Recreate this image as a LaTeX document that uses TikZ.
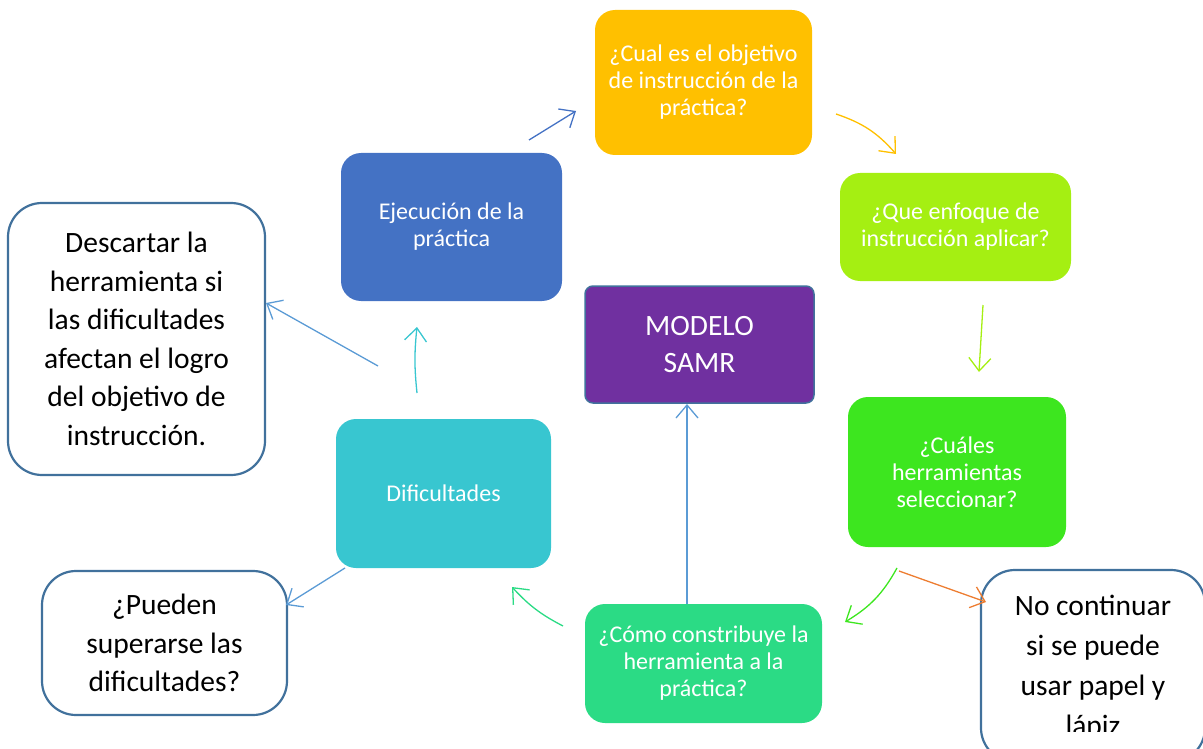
\documentclass[tikz,border=0pt]{standalone}
\usepackage{fontspec}
\setmainfont{Carlito}
\usetikzlibrary{arrows.meta}
\definecolor{cOra}{HTML}{FFC000}
\definecolor{cLime}{HTML}{A5EF12}
\definecolor{cGreen}{HTML}{3DE61F}
\definecolor{cTeal}{HTML}{2BDB85}
\definecolor{cCyan}{HTML}{38C6D0}
\definecolor{cBlue}{HTML}{4472C4}
\definecolor{cPurple}{HTML}{7030A0}
\definecolor{cEdge}{HTML}{41719C}
\definecolor{cLBlue}{HTML}{5B9BD5}
\definecolor{cRed}{HTML}{ED7D31}
\tikzset{
  cbox/.style={rounded corners=20pt, text=white, align=center, inner sep=2pt,
    font=\fontsize{24}{27}\selectfont},
  wbox/.style={draw=cEdge, line width=2.2pt, fill=white, rounded corners=34pt,
    text=black, align=center, font=\fontsize{29.5}{38.5}\selectfont},
  arr/.style={line width=1.3pt, -{Straight Barb[length=13pt,width=22pt,line width=1.3pt]}},
}
\begin{document}
\begin{tikzpicture}[x=1pt,y=-1pt]
\useasboundingbox (0,0) rectangle (1203,749);
% colored boxes
\node[cbox, fill=cOra, minimum width=217pt, minimum height=145pt] (obj) at (703.5,82.5)
  {¿Cual es el objetivo\\de instrucción de la\\práctica?};
\node[cbox, fill=cLime, minimum width=231pt, minimum height=108pt] (enf) at (955.5,227)
  {¿Que enfoque de\\instrucción aplicar?};
\node[cbox, fill=cGreen, minimum width=218pt, minimum height=150pt] (her) at (957,472)
  {¿Cuáles\\herramientas\\seleccionar?};
\node[cbox, fill=cTeal, minimum width=237pt, minimum height=119pt] (con) at (703.5,663.5)
  {¿Cómo constribuye la\\herramienta a la\\práctica?};
\node[cbox, fill=cCyan, minimum width=215pt, minimum height=149pt] (dif) at (443.5,493.5)
  {Dificultades};
\node[cbox, fill=cBlue, minimum width=221pt, minimum height=148pt] (eje) at (451.5,227)
  {Ejecución de la\\práctica};
\node[cbox, fill=cPurple, draw=cEdge, line width=1.5pt, rounded corners=8pt,
  minimum width=229pt, minimum height=117pt, font=\fontsize{29.5}{37}\selectfont] (samr) at (699.5,344.5)
  {MODELO\\SAMR};
% white boxes
\node[wbox, minimum width=257pt, minimum height=272pt] (desc) at (136.5,339)
  {Descartar la\\herramienta si\\las dificultades\\afectan el logro\\del objetivo de\\instrucción.};
\node[wbox, minimum width=245pt, minimum height=144pt] (pued) at (164.5,643)
  {¿Pueden\\superarse las\\dificultades?};
\node[wbox, minimum width=224pt, minimum height=192pt] (noc) at (1093,666) {};
\begin{scope}
  \clip (980,560) rectangle (1203,731);
  \node[align=center, text=black, font=\fontsize{29.5}{40}\selectfont] (noct) at (1093,668)
    {No continuar\\si se puede\\usar papel y\\lápiz};
\end{scope}
% arrow endpoints
\coordinate (a1s) at (529,140); \coordinate (a1e) at (576,111);
\coordinate (a2s) at (836,114); \coordinate (a2e) at (896,154);
\coordinate (a3s) at (983,305); \coordinate (a3e) at (979,372);
\coordinate (a4s) at (897,568); \coordinate (a4e) at (845,622);
\coordinate (a5s) at (899,571); \coordinate (a5e) at (986,602);
\coordinate (a6s) at (563,626); \coordinate (a6e) at (512,587);
\coordinate (a7s) at (417,393); \coordinate (a7e) at (417,327);
\coordinate (a8s) at (378,366); \coordinate (a8e) at (266,303);
\coordinate (a9s) at (345,568); \coordinate (a9e) at (286,605);
\coordinate (a10s) at (687,604); \coordinate (a10e) at (687,404);
% arrows
\draw[arr, cBlue] (a1s) -- (a1e);
\draw[arr, cOra] (a2s) to[bend left=15] (a2e);
\draw[arr, cLime] (a3s) -- (a3e);
\draw[arr, cGreen] (a4s) to[bend left=15] (a4e);
\draw[arr, cRed] (a5s) -- (a5e);
\draw[arr, cTeal] (a6s) to[bend left=10] (a6e);
\draw[arr, cCyan] (a7s) to[bend left=6] (a7e);
\draw[arr, cLBlue] (a8s) -- (a8e);
\draw[arr, cLBlue] (a9s) -- (a9e);
\draw[arr, cLBlue] (a10s) -- (a10e);
\end{tikzpicture}
\end{document}
